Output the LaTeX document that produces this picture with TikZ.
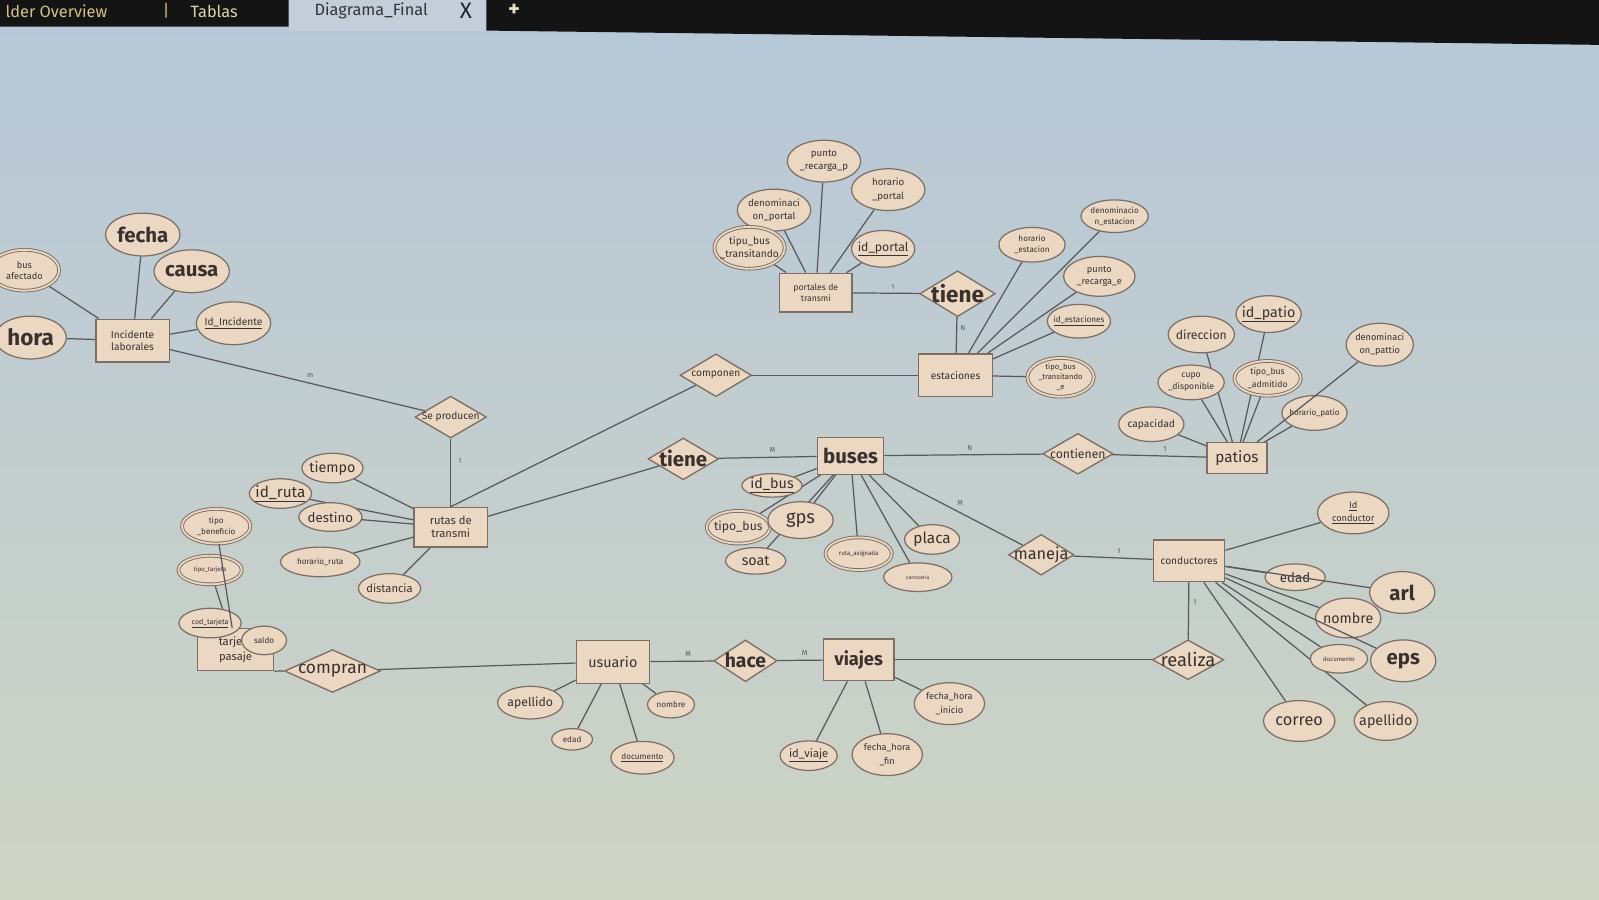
\documentclass[tikz,border=0pt]{standalone}
\usepackage{fontspec}
\setmainfont{Fira Sans}
\usetikzlibrary{shapes.geometric}
\definecolor{fl}{RGB}{234,216,194}
\definecolor{bdr}{RGB}{125,110,100}
\definecolor{txt}{RGB}{58,48,46}
\definecolor{lc}{RGB}{88,88,92}
\definecolor{bgA}{RGB}{182,199,216}
\definecolor{bgB}{RGB}{198,209,212}
\definecolor{bgC}{RGB}{206,212,196}
\definecolor{barc}{RGB}{20,20,20}
\definecolor{tabc}{RGB}{196,206,218}
\definecolor{gold}{RGB}{212,194,130}
\newcommand\fR[2]{\fontsize{#1}{#2}\selectfont}
\newcommand\fB[2]{\fontsize{#1}{#2}\selectfont\bfseries}
\pgfdeclarelayer{bg}\pgfdeclarelayer{edges}\pgfsetlayers{bg,edges,main}
\tikzset{
 sz/.style 2 args={minimum width=#1pt, minimum height=#2pt},
 ent/.style={rectangle, draw=bdr, fill=fl, line width=1.3pt, inner sep=0pt},
 rel/.style={diamond, draw=bdr, fill=fl, line width=1.3pt, inner sep=0pt},
 att/.style={ellipse, draw=bdr, fill=fl, line width=1.2pt, inner sep=0pt},
 mv/.style={att, line width=0.9pt, double=fl, double distance=1.8pt},
 lbl/.style={text=txt, align=center, inner sep=0pt},
 ln/.style={draw=lc, line width=1.2pt},
 card/.style={text=lc, font=\fR{7}{8}, inner sep=1pt},
}
\begin{document}
\begin{tikzpicture}[x=1pt,y=-1pt]
\useasboundingbox (0,0) rectangle (1568,882);
\begin{pgfonlayer}{bg}
\shade[top color=bgA, middle color=bgB, bottom color=bgC] (0,0) rectangle (1568,882);
\fill[tabc] (283,0) rectangle (477,30);
\fill[barc] (0,0) -- (1568,0) -- (1568,44) -- (477,30) -- (477,0) -- (283,0) -- (283,26) -- (0,26) -- cycle;
\end{pgfonlayer}
% tab bar
\node[anchor=west, text=gold, font=\fR{16}{18}] (tabA) at (2,11) {lder Overview};
\node[text=gold, font=\fR{16}{18}] (tabS) at (163,11) {|};
\node[text=gold!70!white, font=\fR{16}{18}] (tabB) at (210,11) {Tablas};
\node[text=black!80, font=\fR{16}{18}] (tabC) at (364,11) {Diagrama\_Final};
\node[text=black!85, font=\fR{22}{24}] (tabX) at (457,11) {X};
\node[text=gold!50!white, font=\fB{22}{24}] (tabP) at (504,10) {+};

% ---------- Incidente laborales
\node[ent, sz={72}{42}, label={[lbl,font=\fR{10}{12}]center:Incidente\\laborales}] (inc) at (130,334) {};
\node[mv, sz={68}{40}, label={[lbl,font=\fR{9}{11}]center:bus\\afectado}] (busaf) at (24,265) {};
\node[att, sz={73}{42}, label={[lbl,font=\fB{20}{22}]center:fecha}] (fecha) at (140,230) {};
\node[att, sz={74}{42}, label={[lbl,font=\fB{20}{22}]center:causa}] (causa) at (188,266) {};
\node[att, sz={70}{42}, label={[lbl,font=\fB{22}{24}]center:hora}] (hora) at (30,331) {};
\node[att, sz={73}{42}, label={[lbl,font=\fR{10}{12}]center:\underline{Id\_Incidente}}] (idinc) at (229,317) {};
\node[rel, sz={70}{41}, label={[lbl,font=\fR{10}{12}]center:Se producen}] (sepr) at (442,409) {};

% ---------- portales
\node[ent, sz={71}{38}, label={[lbl,font=\fR{8.5}{11}]center:portales de\\transmi}] (port) at (800,287) {};
\node[att, sz={72}{41}, label={[lbl,font=\fR{9.5}{13}]center:punto\\\_recarga\_p}] (prp) at (808,158) {};
\node[att, sz={72}{41}, label={[lbl,font=\fR{9.5}{13}]center:horario\\\_portal}] (hpo) at (871,186) {};
\node[att, sz={72}{41}, label={[lbl,font=\fR{9.5}{13}]center:denominaci\\on\_portal}] (dpo) at (759,206) {};
\node[mv, sz={69}{41}, label={[lbl,font=\fR{10}{13}]center:tipu\_bus\\\_transitando}] (tbt) at (735,243) {};
\node[att, sz={62}{36}, label={[lbl,font=\fR{12}{14}]center:\underline{id\_portal}}] (idpo) at (866,244) {};
\node[rel, sz={74}{45}, label={[lbl,font=\fB{22}{24}]center:tiene}] (tiene1) at (939,288) {};

% ---------- estaciones
\node[ent, sz={72}{42}, label={[lbl,font=\fR{10}{12}]center:estaciones}] (est) at (937,368) {};
\node[att, sz={65}{34}, label={[lbl,font=\fR{8}{11}]center:horario\\\_estacion}] (hes) at (1012,240) {};
\node[att, sz={66}{32}, label={[lbl,font=\fR{8}{11}]center:denominacio\\n\_estacion}] (des) at (1093,212) {};
\node[att, sz={70}{39}, label={[lbl,font=\fR{9}{12}]center:punto\\\_recarga\_e}] (pre) at (1078,271) {};
\node[att, sz={62}{33}, label={[lbl,font=\fR{8}{10}]center:\underline{id\_estaciones}}] (ides) at (1058,315) {};
\node[mv, sz={65}{38}, label={[lbl,font=\fR{7.5}{10}]center:tipo\_bus\\\_transitando\\\_e}] (tbte) at (1040,370) {};
\node[rel, sz={70}{42}, label={[lbl,font=\fR{10}{12}]center:componen}] (comp) at (702,368) {};

% ---------- patios
\node[ent, sz={59}{30}, label={[lbl,font=\fR{15}{17}]center:patios}] (pat) at (1213,449) {};
\node[att, sz={64}{36}, label={[lbl,font=\fR{14}{16}]center:\underline{id\_patio}}] (idpa) at (1244,308) {};
\node[att, sz={65}{36}, label={[lbl,font=\fR{12}{14}]center:direccion}] (dir) at (1178,328) {};
\node[att, sz={66}{42}, label={[lbl,font=\fR{9}{13}]center:denominaci\\on\_pattio}] (dpa) at (1353,338) {};
\node[att, sz={65}{34}, label={[lbl,font=\fR{8.5}{12}]center:cupo\\\_disponible}] (cupo) at (1168,375) {};
\node[mv, sz={65}{34}, label={[lbl,font=\fR{8.5}{12}]center:tipo\_bus\\\_admitido}] (tba) at (1243,371) {};
\node[att, sz={64}{34}, label={[lbl,font=\fR{8}{10}]center:horario\_patio}] (hpa) at (1289,405) {};
\node[att, sz={64}{34}, label={[lbl,font=\fR{10}{12}]center:capacidad}] (cap) at (1129,416) {};
\node[rel, sz={69}{40}, label={[lbl,font=\fR{12}{14}]center:contienen}] (cont) at (1057,445) {};

% ---------- buses
\node[ent, sz={65}{36}, label={[lbl,font=\fB{20}{22}]center:buses}] (bus) at (834,447) {};
\node[att, sz={59}{23}, label={[lbl,font=\fR{14}{16}]center:\underline{id\_bus}}] (idbus) at (757,476) {};
\node[mv, sz={62}{32}, label={[lbl,font=\fR{12}{14}]center:tipo\_bus}] (tbus) at (724,517) {};
\node[att, sz={64}{36}, label={[lbl,font=\fR{18}{20}]center:gps}] (gps) at (785,510) {};
\node[att, sz={59}{26}, label={[lbl,font=\fR{14}{16}]center:soat}] (soat) at (741,550) {};
\node[mv, sz={65}{32}, label={[lbl,font=\fR{6}{8}]center:ruta\_asignada}] (rasig) at (842,543) {};
\node[att, sz={54}{29}, label={[lbl,font=\fR{15}{17}]center:placa}] (placa) at (914,529) {};
\node[att, sz={67}{28}, label={[lbl,font=\fR{5}{7}]center:carroceria}] (carr) at (900,566) {};
\node[rel, sz={69}{41}, label={[lbl,font=\fB{20}{22}]center:tiene}] (tiene2) at (670,450) {};
\node[rel, sz={64}{40}, label={[lbl,font=\fR{16}{18}]center:maneja}] (man) at (1021,544) {};

% ---------- rutas
\node[ent, sz={72}{39}, label={[lbl,font=\fR{11}{13}]center:rutas de\\transmi}] (rut) at (442,517) {};
\node[att, sz={60}{29}, label={[lbl,font=\fR{14}{16}]center:tiempo}] (tiem) at (326,459) {};
\node[att, sz={61}{29}, label={[lbl,font=\fR{15}{17}]center:\underline{id\_ruta}}] (idru) at (275,484) {};
\node[att, sz={62}{28}, label={[lbl,font=\fR{13}{15}]center:destino}] (dest) at (324,507) {};
\node[att, sz={78}{29}, label={[lbl,font=\fR{8}{10}]center:horario\_ruta}] (hru) at (314,551) {};
\node[att, sz={61}{29}, label={[lbl,font=\fR{11}{13}]center:distancia}] (dist) at (382,577) {};

% ---------- tarjeta pasaje
\node[ent, sz={75}{41}, label={[lbl,font=\fR{11}{15}]center:tarjeta\\pasaje}] (tarj) at (231,637) {};
\node[mv, sz={67}{34}, label={[lbl,font=\fR{8}{11}]center:tipo\\\_beneficio}] (tben) at (212,516) {};
\node[mv, sz={62}{28}, label={[lbl,font=\fR{6}{8}]center:tipo\_tarjeta}] (ttar) at (206,559) {};
\node[att, sz={61}{29}, label={[lbl,font=\fR{7}{9}]center:\underline{cod\_tarjeta}}] (codt) at (206,611) {};
\node[att, sz={44}{28}, label={[lbl,font=\fR{8}{10}]center:saldo}] (saldo) at (259,628) {};
\node[rel, sz={94}{42}, label={[lbl,font=\fR{17}{19}]center:compran}] (compr) at (326,658) {};

% ---------- usuario
\node[ent, sz={72}{42}, label={[lbl,font=\fR{14}{16}]center:usuario}] (usu) at (601,649) {};
\node[att, sz={64}{32}, label={[lbl,font=\fR{12}{14}]center:apellido}] (ape) at (520,689) {};
\node[att, sz={46}{26}, label={[lbl,font=\fR{8}{10}]center:nombre}] (nom) at (658,691) {};
\node[att, sz={40}{21}, label={[lbl,font=\fR{8}{10}]center:edad}] (edad) at (561,725) {};
\node[att, sz={62}{32}, label={[lbl,font=\fR{8}{10}]center:\underline{documento}}] (doc) at (630,743) {};
\node[rel, sz={62}{41}, label={[lbl,font=\fB{19}{21}]center:hace}] (hace) at (731,648) {};

% ---------- viajes
\node[ent, sz={69}{41}, label={[lbl,font=\fB{18}{20}]center:viajes}] (via) at (842,647) {};
\node[att, sz={56}{29}, label={[lbl,font=\fR{11}{13}]center:\underline{id\_viaje}}] (idvi) at (793,741) {};
\node[att, sz={69}{41}, label={[lbl,font=\fR{9}{13}]center:fecha\_hora\\\_fin}] (fhf) at (870,740) {};
\node[att, sz={69}{41}, label={[lbl,font=\fR{9}{13}]center:fecha\_hora\\\_inicio}] (fhi) at (931,690) {};
\node[rel, sz={70}{39}, label={[lbl,font=\fR{18}{20}]center:realiza}] (real) at (1165,647) {};

% ---------- conductores
\node[ent, sz={70}{41}, label={[lbl,font=\fR{10}{12}]center:conductores}] (cond) at (1166,550) {};
\node[att, sz={70}{41}, label={[lbl,font=\fR{9}{13}]center:\underline{Id}\\\underline{conductor}}] (idco) at (1327,503) {};
\node[att, sz={59}{26}, label={[lbl,font=\fR{13}{15}]center:edad}] (edc) at (1270,566) {};
\node[att, sz={64}{41}, label={[lbl,font=\fB{20}{22}]center:arl}] (arl) at (1375,581) {};
\node[att, sz={64}{39}, label={[lbl,font=\fR{14}{16}]center:nombre}] (nomc) at (1322,606) {};
\node[att, sz={56}{28}, label={[lbl,font=\fR{6}{8}]center:documento}] (docc) at (1313,646) {};
\node[att, sz={64}{41}, label={[lbl,font=\fB{20}{22}]center:eps}] (eps) at (1376,648) {};
\node[att, sz={70}{40}, label={[lbl,font=\fR{16}{18}]center:correo}] (corr) at (1274,707) {};
\node[att, sz={62}{38}, label={[lbl,font=\fR{14}{16}]center:apellido}] (apec) at (1359,707) {};

% ---------- connectors (behind the shapes)
\begin{pgfonlayer}{edges}
\foreach \a in {busaf,fecha,causa,hora,idinc} \draw[ln] (inc) -- (\a);
\draw[ln] (inc) -- node[card, pos=0.55, above=4pt]{m} (sepr);
\draw[ln] (sepr) -- node[card, pos=0.33, right=6pt]{1} (rut);
\foreach \a in {prp,hpo,dpo,tbt,idpo} \draw[ln] (port) -- (\a);
\draw[ln] (port) -- node[card, pos=0.6, above=2pt]{1} (tiene1);
\draw[ln] (tiene1) -- node[card, pos=0.3, right=2pt]{N} (est);
\foreach \a in {hes,des,pre,ides,tbte} \draw[ln] (est) -- (\a);
\draw[ln] (comp) -- (est);
\draw[ln] (comp) -- (rut.north);
\foreach \a in {idpa,dir,cupo,tba,hpa,cap} \draw[ln] (pat) -- (\a);
\draw[ln] (cont) -- node[card, pos=0.56, above=3pt]{1} (pat);
\draw[ln] (bus) -- node[card, pos=0.54, above=3pt]{N} (cont);
\foreach \a in {idbus,tbus,gps,soat,rasig,placa,carr} \draw[ln] (bus) -- (\a);
\draw[ln] (bus) -- node[card, pos=0.45, above=3pt]{M} (tiene2);
\draw[ln] (tiene2) -- (rut);
\draw[ln] (bus) -- node[card, pos=0.5, above right=2pt]{M} (man);
\draw[ln] (man) -- node[card, pos=0.58, above=3pt]{1} (cond);
\foreach \a in {tiem,idru,dest,hru,dist} \draw[ln] (rut) -- (\a);
\foreach \a in {ttar,codt,saldo} \draw[ln] (tarj) -- (\a);
\draw[ln] (tarj.south east) -- (compr.west);
\draw[ln] (compr) -- (usu);
\foreach \a in {ape,nom,edad,doc} \draw[ln] (usu) -- (\a);
\draw[ln] (usu) -- node[card, pos=0.6, above=3pt]{M} (hace);
\draw[ln] (hace) -- node[card, pos=0.6, above=3pt]{M} (via);
\foreach \a in {idvi,fhf,fhi} \draw[ln] (via) -- (\a);
\draw[ln] (via) -- (real);
\draw[ln] (real) -- node[card, pos=0.66, right=3pt]{1} (cond);
\foreach \a in {idco,edc,nomc,docc,corr,apec} \draw[ln] (cond) -- (\a);
\end{pgfonlayer}
% connectors drawn over the shapes
\draw[ln] (cond) -- (arl);
\draw[ln] (cond) -- (eps);
\draw[ln] (tben) -- (tarj);
\draw[ln] (dpa) -- (pat);
\end{tikzpicture}
\end{document}
